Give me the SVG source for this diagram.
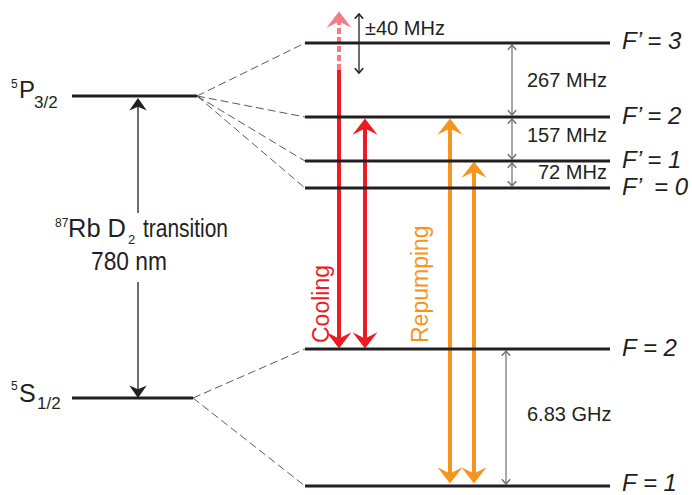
<svg xmlns="http://www.w3.org/2000/svg" width="692" height="495" viewBox="0 0 692 495">
<style>
text{font-family:"Liberation Sans",Arial,sans-serif;fill:#231f20}
.lvl{stroke:#231f20;stroke-width:3;fill:none}
.dash{stroke:#58595b;stroke-width:1;stroke-dasharray:8 4;fill:none}
.gray{stroke:#6d6e71;stroke-width:1.2;fill:none}
.blk{stroke:#231f20;stroke-width:1.3;fill:none}
.lab{font-size:20px}
.fl{font-size:24px;font-style:italic}
.red{stroke:#ed1c24;stroke-width:4;fill:none}
.org{stroke:#f7941d;stroke-width:4;fill:none}
</style>
<defs>
<marker id="rE" markerUnits="userSpaceOnUse" orient="auto" refX="-6" refY="0" markerWidth="30" markerHeight="30" viewBox="-15 -12 20 24" overflow="visible"><path d="M0,0 L-13,-10 L-8,0 L-13,10 Z" fill="#ed1c24"/></marker>
<marker id="rS" markerUnits="userSpaceOnUse" orient="auto" refX="6" refY="0" markerWidth="30" markerHeight="30" viewBox="-5 -12 20 24" overflow="visible"><path d="M0,0 L13,-10 L8,0 L13,10 Z" fill="#ed1c24"/></marker>
<marker id="oE" markerUnits="userSpaceOnUse" orient="auto" refX="-6" refY="0" markerWidth="30" markerHeight="30" viewBox="-15 -12 20 24" overflow="visible"><path d="M0,0 L-13,-10 L-8,0 L-13,10 Z" fill="#f7941d"/></marker>
<marker id="oS" markerUnits="userSpaceOnUse" orient="auto" refX="6" refY="0" markerWidth="30" markerHeight="30" viewBox="-5 -12 20 24" overflow="visible"><path d="M0,0 L13,-10 L8,0 L13,10 Z" fill="#f7941d"/></marker>
<marker id="fE" markerUnits="userSpaceOnUse" orient="auto" refX="-6" refY="0" markerWidth="30" markerHeight="30" viewBox="-15 -12 20 24" overflow="visible"><path d="M0,0 L-13,-10 L-8,0 L-13,10 Z" fill="#f47c82"/></marker>
<marker id="kE" markerUnits="userSpaceOnUse" orient="auto" refX="-4" refY="0" markerWidth="20" markerHeight="20" viewBox="-12 -8 14 16" overflow="visible"><path d="M0,0 L-10,-7 L-7,0 L-10,7 Z" fill="#231f20"/></marker>
<marker id="gE" markerUnits="userSpaceOnUse" orient="auto" refX="0" refY="0" markerWidth="12" markerHeight="12" viewBox="-6 -5 8 10" overflow="visible"><path d="M-4,-3.5 L0,0 L-4,3.5" fill="none" stroke="#6d6e71" stroke-width="1.2"/></marker>
<marker id="gS" markerUnits="userSpaceOnUse" orient="auto" refX="0" refY="0" markerWidth="12" markerHeight="12" viewBox="-2 -5 8 10" overflow="visible"><path d="M4,-3.5 L0,0 L4,3.5" fill="none" stroke="#6d6e71" stroke-width="1.2"/></marker>
<marker id="bE" markerUnits="userSpaceOnUse" orient="auto" refX="0" refY="0" markerWidth="12" markerHeight="12" viewBox="-6 -5 8 10" overflow="visible"><path d="M-4,-3.5 L0,0 L-4,3.5" fill="none" stroke="#231f20" stroke-width="1.3"/></marker>
<marker id="bS" markerUnits="userSpaceOnUse" orient="auto" refX="0" refY="0" markerWidth="12" markerHeight="12" viewBox="-2 -5 8 10" overflow="visible"><path d="M4,-3.5 L0,0 L4,3.5" fill="none" stroke="#231f20" stroke-width="1.3"/></marker>
</defs>

<g id="connectors">
<path class="dash" d="M197,96 L305,43"/>
<path class="dash" d="M197,96 L305,117"/>
<path class="dash" d="M197,96 L305,161"/>
<path class="dash" d="M197,96 L305,188"/>
<path class="dash" d="M193,398 L305,349"/>
<path class="dash" d="M193,398 L305,486"/>
<path class="blk" d="M138,213 L138,103" marker-end="url(#kE)"/>
<path class="blk" d="M138,282 L138,393" marker-end="url(#kE)"/>
<path class="blk" d="M359,14 L359,73" marker-start="url(#bS)" marker-end="url(#bE)"/>
<path class="gray" d="M512,45 L512,115" marker-start="url(#gS)" marker-end="url(#gE)"/>
<path class="gray" d="M512,119 L512,159" marker-start="url(#gS)" marker-end="url(#gE)"/>
<path class="gray" d="M512,163 L512,186" marker-start="url(#gS)" marker-end="url(#gE)"/>
<path class="gray" d="M506,351 L506,484" marker-start="url(#gS)" marker-end="url(#gE)"/>
<path d="M339,70 L339,19" stroke="#f47c82" stroke-width="4" stroke-dasharray="6 3" fill="none" marker-end="url(#fE)"/>
<path class="red" d="M339,70 L339,341" marker-end="url(#rE)"/>
<path class="red" d="M365,126 L365,341" marker-start="url(#rS)" marker-end="url(#rE)"/>
<path class="org" d="M450,126 L450,476" marker-start="url(#oS)" marker-end="url(#oE)"/>
<path class="org" d="M474,169 L474,476" marker-start="url(#oS)" marker-end="url(#oE)"/>
</g>

<g id="n-5P">
<line class="lvl" x1="72" y1="96" x2="197" y2="96"/>
<text x="11" y="88" font-size="12">5</text>
<text x="19" y="98" font-size="24">P</text>
<text x="34" y="108" font-size="17">3/2</text>
</g>
<g id="n-5S">
<line class="lvl" x1="72" y1="398" x2="193" y2="398"/>
<text x="11" y="390" font-size="12">5</text>
<text x="19" y="402" font-size="25">S</text>
<text x="37" y="409" font-size="17">1/2</text>
</g>
<g id="n-d2">
<text font-size="25"><tspan x="55" y="227" font-size="12">87</tspan><tspan x="68" y="237" textLength="58" lengthAdjust="spacingAndGlyphs">Rb D</tspan><tspan x="128" y="244" font-size="13">2</tspan><tspan x="143" y="237" textLength="85" lengthAdjust="spacingAndGlyphs">transition</tspan></text>
<text x="91" y="270" font-size="25" textLength="76" lengthAdjust="spacingAndGlyphs">780 nm</text>
</g>
<g id="n-F3">
<line class="lvl" x1="305" y1="43" x2="610" y2="43"/>
<text class="fl" x="622" y="49">F’ = 3</text>
</g>
<g id="n-F2p">
<line class="lvl" x1="305" y1="117" x2="610" y2="117"/>
<text class="fl" x="622" y="124">F’ = 2</text>
</g>
<g id="n-F1p">
<line class="lvl" x1="305" y1="161" x2="610" y2="161"/>
<text class="fl" x="622" y="168">F’ = 1</text>
</g>
<g id="n-F0p">
<line class="lvl" x1="305" y1="188" x2="610" y2="188"/>
<text class="fl" x="622" y="195" xml:space="preserve">F’  = 0</text>
</g>
<g id="n-F2">
<line class="lvl" x1="305" y1="349" x2="610" y2="349"/>
<text class="fl" x="622" y="356">F = 2</text>
</g>
<g id="n-F1">
<line class="lvl" x1="305" y1="486" x2="610" y2="486"/>
<text class="fl" x="622" y="491">F = 1</text>
</g>
<g id="labels">
<text class="lab" x="365" y="35">±40 MHz</text>
<text class="lab" x="527" y="87">267 MHz</text>
<text class="lab" x="527" y="142">157 MHz</text>
<text class="lab" x="538" y="179">72 MHz</text>
<text class="lab" x="527" y="421">6.83 GHz</text>
<text x="329" y="343" font-size="23" transform="rotate(-90 329 343)" style="fill:#ed1c24">Cooling</text>
<text x="428" y="343" font-size="23" transform="rotate(-90 428 343)" style="fill:#f7941d">Repumping</text>
</g>
</svg>
